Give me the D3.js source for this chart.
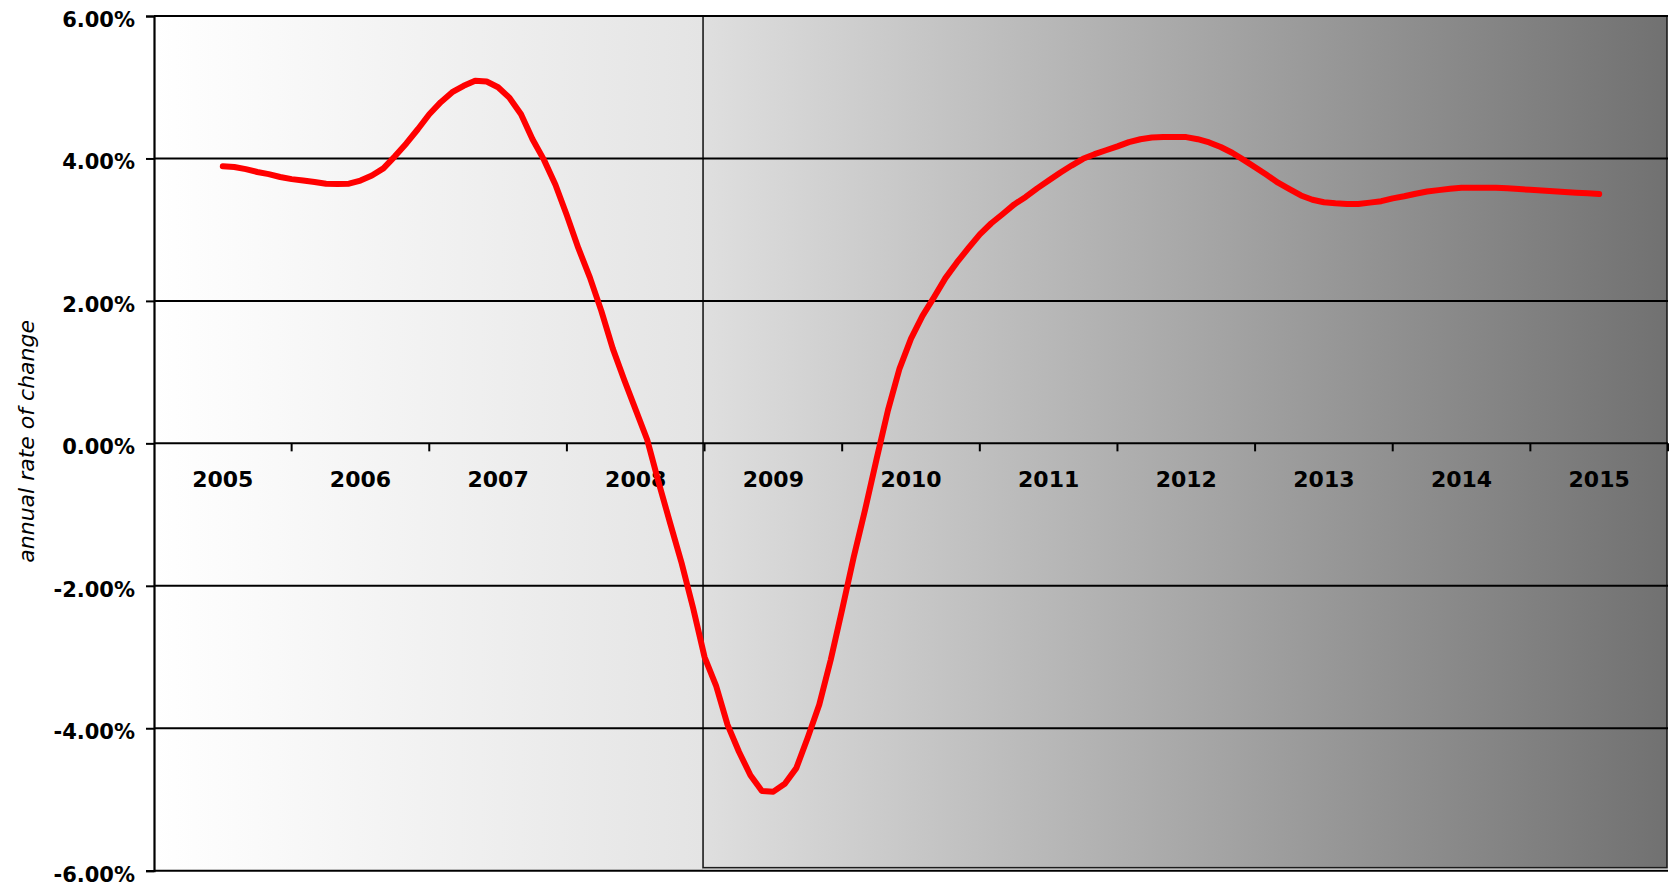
<!DOCTYPE html>
<html>
<head>
<meta charset="utf-8">
<script src="https://cdn.jsdelivr.net/npm/d3@7/dist/d3.min.js"></script>
<style>
  html, body { margin: 0; padding: 0; background: #ffffff; }
  svg { display: block; }
  .ylab, .xlab { font-family: "DejaVu Sans", sans-serif; font-weight: bold; fill: #000; }
  .ytitle { font-family: "DejaVu Sans", sans-serif; font-style: italic; fill: #000; }
</style>
</head>
<body>
<svg id="chart" width="1669" height="887"></svg>
<script>
// Category labels along the horizontal axis
const years = ["2005", "2006", "2007", "2008", "2009", "2010", "2011", "2012", "2013", "2014", "2015"];

// Gridline / tick values on the vertical axis (percent)
const yTicks = [-6, -4, -2, 0, 2, 4, 6];

// First year of the shaded outlook panel
const outlookStart = "2009";

// Monthly annual rate of change (%), January 2005 through January 2015
const monthlyRate = [
  3.89, 3.88, 3.85, 3.81, 3.78, 3.74, 3.71, 3.69, 3.67, 3.645, 3.64, 3.645,   // 2005
  3.69, 3.76, 3.86, 4.03, 4.21, 4.41, 4.62, 4.79, 4.93, 5.02, 5.09, 5.08,      // 2006
  5.00, 4.85, 4.62, 4.27, 3.98, 3.63, 3.20, 2.74, 2.33, 1.86, 1.33, 0.89,      // 2007
  0.47, 0.05, -0.55, -1.12, -1.68, -2.31, -3.00, -3.40, -3.95, -4.33, -4.66, -4.88, // 2008
  -4.89, -4.78, -4.56, -4.13, -3.67, -3.04, -2.33, -1.60, -0.93, -0.22, 0.47, 1.05, // 2009
  1.47, 1.79, 2.05, 2.32, 2.54, 2.74, 2.935, 3.09, 3.22, 3.355, 3.46, 3.58,    // 2010
  3.69, 3.80, 3.90, 3.995, 4.06, 4.115, 4.17, 4.23, 4.27, 4.295, 4.30, 4.30,   // 2011
  4.30, 4.27, 4.225, 4.16, 4.08, 3.98, 3.875, 3.77, 3.66, 3.57, 3.48, 3.42,    // 2012
  3.385, 3.37, 3.36, 3.36, 3.38, 3.40, 3.44, 3.47, 3.505, 3.535, 3.555, 3.575, // 2013
  3.59, 3.59, 3.59, 3.59, 3.58, 3.57, 3.56, 3.55, 3.54, 3.53, 3.52, 3.51,      // 2014
  3.50                                                                          // 2015
];

const W = 1669, H = 887;
const margin = { top: 16, right: 1, bottom: 16.3, left: 154 };
const x0 = margin.left, x1 = W - margin.right;
const yTop = margin.top, yBot = H - margin.bottom;

const svg = d3.select("#chart");

// Scales
const xBand = d3.scaleBand().domain(years).range([x0, x1]).paddingInner(0).paddingOuter(0);
const y = d3.scaleLinear().domain([-6, 6]).range([yBot, yTop]);
const bw = xBand.bandwidth();
const xMonth = d3.scaleLinear()
  .domain([0, monthlyRate.length - 1])
  .range([xBand(years[0]) + bw / 2, xBand(years[years.length - 1]) + bw / 2]);

// Background gradients
const defs = svg.append("defs");
const gL = defs.append("linearGradient").attr("id", "gradHist").attr("x1", "0%").attr("x2", "100%").attr("y1", "0%").attr("y2", "0%");
gL.append("stop").attr("offset", "0%").attr("stop-color", "#ffffff");
gL.append("stop").attr("offset", "100%").attr("stop-color", "#e4e4e4");
const gR = defs.append("linearGradient").attr("id", "gradOutlook").attr("x1", "0%").attr("x2", "100%").attr("y1", "0%").attr("y2", "0%");
gR.append("stop").attr("offset", "0%").attr("stop-color", "#dfdfdf");
gR.append("stop").attr("offset", "100%").attr("stop-color", "#717171");

const xSplit = xBand(outlookStart) - 1.5;

svg.append("rect")
  .attr("x", x0).attr("y", yTop)
  .attr("width", xSplit - x0).attr("height", yBot - yTop)
  .attr("fill", "url(#gradHist)");

svg.append("rect")
  .attr("x", xSplit).attr("y", yTop)
  .attr("width", x1 - xSplit - 1).attr("height", yBot - yTop - 3)
  .attr("fill", "url(#gradOutlook)")
  .attr("stroke", "#1c1c1c").attr("stroke-width", 1.6);

// Horizontal gridlines
svg.append("g").selectAll("line")
  .data(yTicks)
  .join("line")
  .attr("x1", x0).attr("x2", x1)
  .attr("y1", d => y(d)).attr("y2", d => y(d))
  .attr("stroke", "#000").attr("stroke-width", 2);

// Vertical axis
const yAxis = svg.append("g")
  .attr("transform", `translate(${x0},0)`)
  .call(d3.axisLeft(y).tickValues(yTicks).tickSize(8).tickPadding(11)
    .tickFormat(d => d.toFixed(2) + "%"));
yAxis.select(".domain").attr("stroke", "#000").attr("stroke-width", 2.2);
yAxis.selectAll(".tick line").attr("stroke", "#000").attr("stroke-width", 2);
yAxis.selectAll(".tick text")
  .attr("class", "ylab")
  .attr("font-size", 21)
  .attr("dy", "0.5em");
yAxis.attr("font-family", null).attr("font-size", null);

// Category axis along the zero line: ticks at category boundaries, labels centred
const y0 = y(0);
const xAxis = svg.append("g");
xAxis.selectAll("line.tick")
  .data(years.slice(1).map(d => xBand(d)).concat([x1]))
  .join("line")
  .attr("class", "tick")
  .attr("x1", d => d).attr("x2", d => d)
  .attr("y1", y0).attr("y2", y0 + 8)
  .attr("stroke", "#000").attr("stroke-width", 2);
xAxis.selectAll("text")
  .data(years)
  .join("text")
  .attr("class", "xlab")
  .attr("x", d => xBand(d) + bw / 2)
  .attr("y", y0 + 44)
  .attr("text-anchor", "middle")
  .attr("font-size", 22)
  .text(d => d);

// Outer frame
svg.append("line").attr("x1", x0).attr("x2", x1).attr("y1", yTop).attr("y2", yTop)
  .attr("stroke", "#000").attr("stroke-width", 2);

// Vertical axis title
svg.append("text")
  .attr("class", "ytitle")
  .attr("transform", `translate(34,${y0 - 2}) rotate(-90)`)
  .attr("text-anchor", "middle")
  .attr("font-size", 22)
  .text("annual rate of change");

// Rate line
const line = d3.line()
  .x((d, i) => xMonth(i))
  .y(d => y(d));

svg.append("path")
  .datum(monthlyRate)
  .attr("d", line)
  .attr("fill", "none")
  .attr("stroke", "#ff0000")
  .attr("stroke-width", 6)
  .attr("stroke-linejoin", "round")
  .attr("stroke-linecap", "round");
</script>
</body>
</html>
